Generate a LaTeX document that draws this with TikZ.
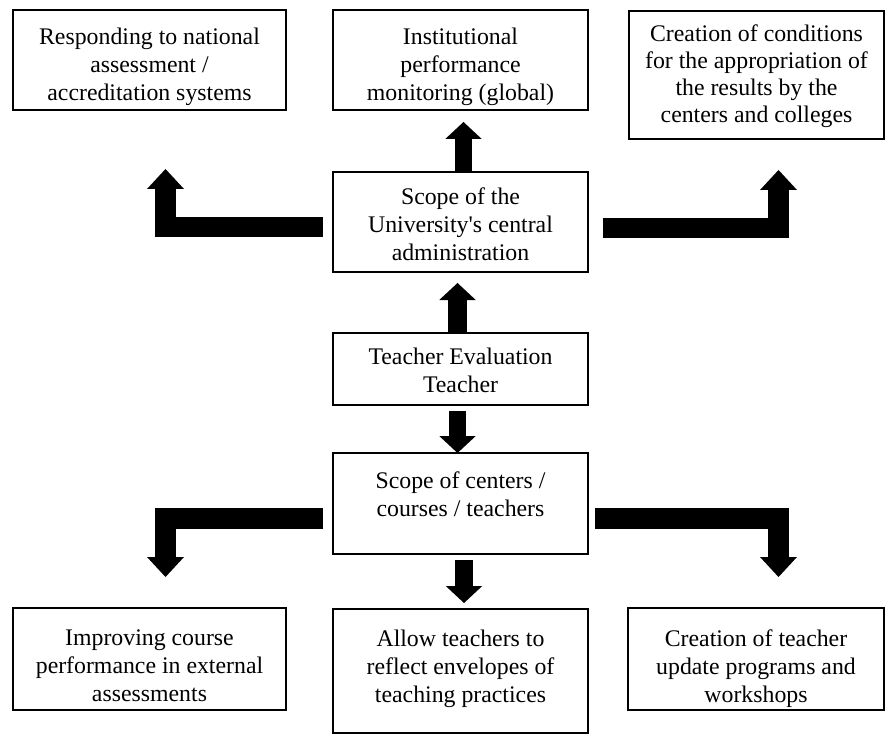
\documentclass[tikz,border=0pt]{standalone}
\usepackage{fontspec}
\setmainfont{Liberation Serif}
\usetikzlibrary{arrows.meta}
\tikzset{
  box/.style={draw, line width=1.4pt, inner sep=0pt, outer sep=0pt},
  txt/.style={anchor=north, inner sep=0pt, align=center,
    font=\fontsize{23.8pt}{28pt}\selectfont, execute at begin node=\strut},
  larrow/.style={line width=20.5pt, -{Triangle[width=37pt,length=20pt,line width=0pt]}},
  sarrow/.style={line width=17.5pt, -{Triangle[width=36.5pt,length=17pt,line width=0pt]}}
}
\begin{document}
\begin{tikzpicture}[x=1pt,y=-1pt]
\useasboundingbox (0,0) rectangle (890,735);
% boxes
\node[box, minimum width=273pt, minimum height=100pt] (tl) at (149.5,60) {};
\node[box, minimum width=255pt, minimum height=100pt] (tm) at (460.5,60) {};
\node[box, minimum width=255pt, minimum height=128pt] (tr) at (756.5,75) {};
\node[box, minimum width=255pt, minimum height=100pt] (central) at (460.5,222) {};
\node[box, minimum width=255pt, minimum height=72pt] (teacher) at (460.5,369) {};
\node[box, minimum width=255pt, minimum height=101pt] (scope) at (460.5,503.5) {};
\node[box, minimum width=273pt, minimum height=102pt] (bl) at (149.5,659) {};
\node[box, minimum width=255pt, minimum height=124pt] (bm) at (460.5,671) {};
\node[box, minimum width=256pt, minimum height=102pt] (br) at (756,659) {};
% texts
\node[txt] (tlt) at (149.5,28) {Responding to national\\assessment /\\accreditation systems};
\node[txt] (tmt) at (460.5,28) {Institutional\\performance\\monitoring (global)};
\node[txt, font=\fontsize{23.8pt}{27pt}\selectfont] (trt) at (756.5,24.5) {Creation of conditions\\for the appropriation of\\the results by the\\centers and colleges};
\node[txt] (centralt) at (460.5,188) {Scope of the\\University\textquotesingle s central\\administration};
\node[txt] (teachert) at (460.5,348) {Teacher Evaluation\\Teacher};
\node[txt] (scopet) at (460.5,472) {Scope of centers /\\courses / teachers};
\node[txt] (blt) at (149.5,630) {Improving course\\performance in external\\assessments};
\node[txt] (bmt) at (460.5,630) {Allow teachers to\\reflect envelopes of\\teaching practices};
\node[txt] (brt) at (756,630) {Creation of teacher\\update programs and\\workshops};
% straight arrows
\draw[sarrow, line width=18.5pt, shorten >=11pt] ([xshift=-3pt]teacher.north) -- ([xshift=-3pt]central.south);
\draw[sarrow, shorten >=12pt] ([xshift=3pt]central.north) -- ([xshift=3pt]tm.south);
\draw[sarrow, shorten <=6pt] ([xshift=-3pt]teacher.south) -- ([xshift=-3pt]scope.north);
\draw[sarrow, shorten <=6pt, shorten >=6pt] ([xshift=3.5pt]scope.south) -- ([xshift=3.5pt]bm.north);
% L-shaped arrows
\draw[larrow] ([xshift=-10pt,yshift=-5pt]central.west) -| ([xshift=16pt,yshift=-59pt]tl.south);
\draw[larrow] ([xshift=15pt,yshift=-6pt]central.east) -| ([xshift=22pt,yshift=-31pt]tr.south);
\draw[larrow] ([xshift=-10pt,yshift=-15pt]scope.west) -| ([xshift=16pt,yshift=31pt]bl.north);
\draw[larrow] ([xshift=7pt,yshift=-15pt]scope.east) -| ([xshift=22.5pt,yshift=31pt]br.north);
\end{tikzpicture}
\end{document}
